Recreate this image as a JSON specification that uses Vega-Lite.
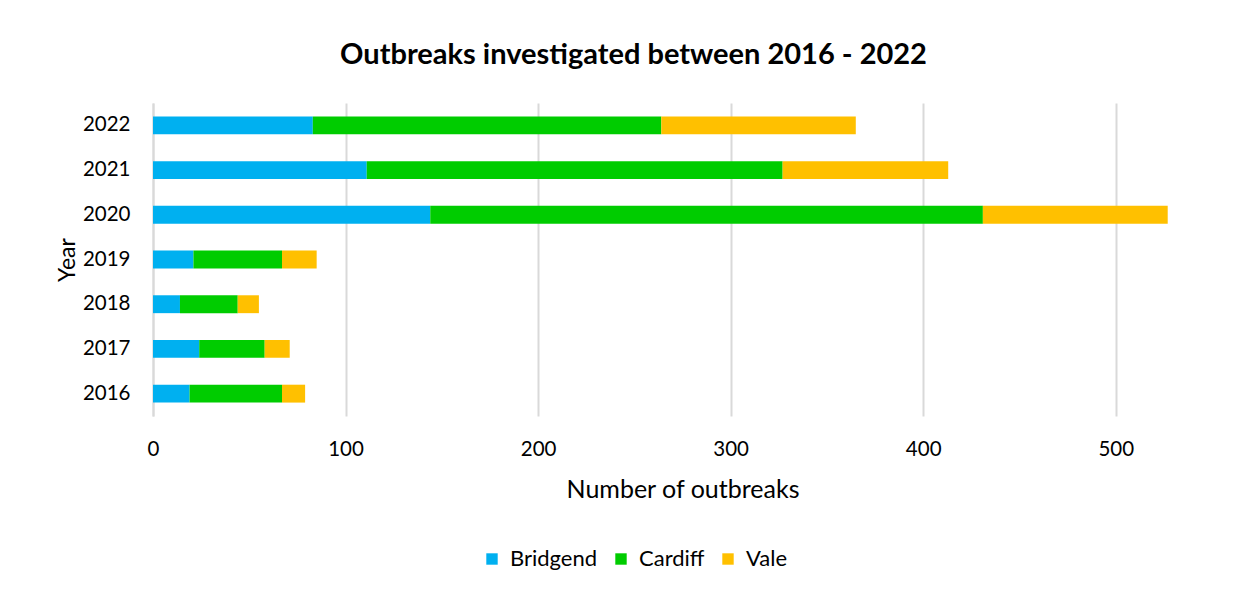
{
  "$schema": "https://vega.github.io/schema/vega-lite/v6.json",
  "autosize": "none",
  "width": 1059,
  "height": 313,
  "padding": {"left": 153, "top": 103, "right": 45, "bottom": 182},
  "background": "white",
  "title": {
    "text": "Outbreaks investigated between 2016 - 2022",
    "font": "Lato",
    "fontSize": 29,
    "fontWeight": "bold",
    "color": "#000000",
    "anchor": "middle",
    "dx": -49,
    "offset": 33
  },
  "data": {
    "values": [
      {"Year": "2022", "Area": "Bridgend", "Outbreaks": 83},
      {"Year": "2022", "Area": "Cardiff", "Outbreaks": 181},
      {"Year": "2022", "Area": "Vale", "Outbreaks": 101},
      {"Year": "2021", "Area": "Bridgend", "Outbreaks": 111},
      {"Year": "2021", "Area": "Cardiff", "Outbreaks": 216},
      {"Year": "2021", "Area": "Vale", "Outbreaks": 86},
      {"Year": "2020", "Area": "Bridgend", "Outbreaks": 144},
      {"Year": "2020", "Area": "Cardiff", "Outbreaks": 287},
      {"Year": "2020", "Area": "Vale", "Outbreaks": 96},
      {"Year": "2019", "Area": "Bridgend", "Outbreaks": 21},
      {"Year": "2019", "Area": "Cardiff", "Outbreaks": 46},
      {"Year": "2019", "Area": "Vale", "Outbreaks": 18},
      {"Year": "2018", "Area": "Bridgend", "Outbreaks": 14},
      {"Year": "2018", "Area": "Cardiff", "Outbreaks": 30},
      {"Year": "2018", "Area": "Vale", "Outbreaks": 11},
      {"Year": "2017", "Area": "Bridgend", "Outbreaks": 24},
      {"Year": "2017", "Area": "Cardiff", "Outbreaks": 34},
      {"Year": "2017", "Area": "Vale", "Outbreaks": 13},
      {"Year": "2016", "Area": "Bridgend", "Outbreaks": 19},
      {"Year": "2016", "Area": "Cardiff", "Outbreaks": 48},
      {"Year": "2016", "Area": "Vale", "Outbreaks": 12}
    ]
  },
  "mark": {"type": "bar"},
  "encoding": {
    "y": {
      "field": "Year",
      "type": "nominal",
      "sort": "descending",
      "scale": {"paddingInner": 0.6, "paddingOuter": 0.3},
      "axis": {
        "title": "Year",
        "titleFont": "Lato",
        "titleFontSize": 23,
        "titleFontWeight": "normal",
        "titleColor": "#000000",
        "titlePadding": 3,
        "labelFont": "Lato",
        "labelFontSize": 20.5,
        "labelColor": "#000000",
        "labelPadding": 23,
        "ticks": false,
        "domain": true,
        "domainColor": "#d9d9d9",
        "domainWidth": 2,
        "grid": false
      }
    },
    "x": {
      "field": "Outbreaks",
      "type": "quantitative",
      "stack": "zero",
      "scale": {"domain": [0, 550], "nice": false},
      "axis": {
        "values": [0, 100, 200, 300, 400, 500],
        "title": "Number of outbreaks",
        "titleFont": "Lato",
        "titleFontSize": 25,
        "titleFontWeight": "normal",
        "titleColor": "#000000",
        "titlePadding": 18,
        "labelFont": "Lato",
        "labelFontSize": 20.5,
        "labelColor": "#000000",
        "labelPadding": 23,
        "labelFlush": false,
        "ticks": false,
        "domain": false,
        "grid": true,
        "gridColor": "#d9d9d9",
        "gridWidth": 2
      }
    },
    "color": {
      "field": "Area",
      "type": "nominal",
      "scale": {
        "domain": ["Bridgend", "Cardiff", "Vale"],
        "range": ["#00B0F0", "#00CC00", "#FFC000"]
      },
      "legend": {
        "title": null,
        "orient": "none",
        "direction": "horizontal",
        "legendX": 328,
        "legendY": 445,
        "symbolType": "square",
        "symbolSize": 130,
        "labelFont": "Lato",
        "labelFontSize": 22,
        "labelColor": "#000000",
        "columnPadding": 12,
        "labelOffset": 7
      }
    }
  },
  "config": {
    "view": {"stroke": null}
  }
}
